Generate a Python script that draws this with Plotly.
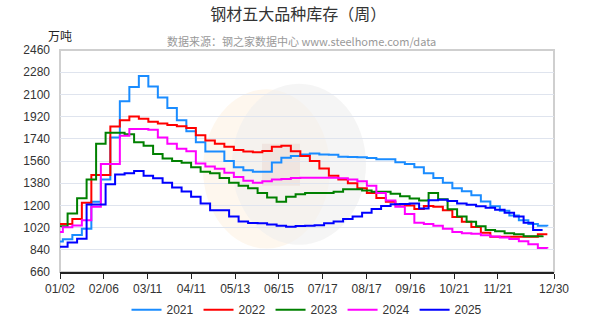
import plotly.graph_objects as go

# ---------------- data ----------------
years = ["2021", "2022", "2023", "2024", "2025"]
colors = ["#1a8cff", "#ff0000", "#008000", "#ff00ff", "#0000ff"]
# weekly report offset (in weeks) of each year's first reading relative to 01/02
week_offset = [-0.7, -0.7, -0.2, -0.7, -0.2]

y2021 = [908, 925, 960, 1010, 1230, 1409, 1750, 2045, 2160, 2250, 2165, 2075, 1990, 1890,
         1802, 1713, 1637, 1637, 1561, 1510, 1485, 1473, 1473, 1548, 1587, 1600, 1612, 1620,
         1612, 1610, 1595, 1592, 1590, 1585, 1574, 1574, 1549, 1535, 1510, 1460, 1422, 1384,
         1340, 1315, 1283, 1232, 1194, 1156, 1118, 1080, 1050, 1035, 1030]
y2022 = [1050, 1050, 1090, 1222, 1447, 1447, 1840, 1890, 1920, 1903, 1878, 1865, 1852, 1842,
         1827, 1769, 1726, 1700, 1675, 1650, 1637, 1630, 1642, 1675, 1683, 1640, 1600, 1560,
         1500, 1440, 1409, 1380, 1340, 1300, 1260, 1230, 1207, 1200, 1170, 1195, 1190, 1160,
         1105, 1067, 1025, 979, 945, 945, 945, 945, 945, 966, 966]
y2023 = [1030, 1135, 1257, 1409, 1700, 1789, 1789, 1776, 1713, 1683, 1617, 1581, 1561, 1545,
         1510, 1473, 1460, 1422, 1384, 1359, 1340, 1300, 1265, 1230, 1270, 1290, 1300, 1300,
         1300, 1310, 1330, 1330, 1320, 1310, 1310, 1295, 1275, 1255, 1240, 1300, 1250, 1169,
         1110, 1067, 1030, 1000, 990, 975, 966, 950, 950, 955]
y2024 = [985, 1022, 1037, 1080, 1190, 1536, 1536, 1764, 1820, 1820, 1814, 1750, 1700, 1660,
         1640, 1540, 1515, 1498, 1465, 1430, 1400, 1384, 1395, 1409, 1415, 1422, 1425, 1425,
         1425, 1425, 1420, 1410, 1395, 1360, 1300, 1240, 1190, 1130, 1060, 1050, 1035, 1010,
         985, 975, 970, 958, 948, 940, 928, 910, 885, 855, 850]
y2025 = [865, 900, 930, 1207, 1207, 1372, 1450, 1460, 1478, 1440, 1420, 1384, 1346, 1313,
         1270, 1215, 1160, 1160, 1110, 1070, 1058, 1055, 1045, 1035, 1027, 1032, 1035, 1040,
         1055, 1070, 1090, 1110, 1140, 1170, 1195, 1210, 1212, 1215, 1175, 1242, 1245, 1235,
         1215, 1205, 1194, 1180, 1165, 1140, 1110, 1060, 1000, 1000]
series = [y2021, y2022, y2023, y2024, y2025]

tick_labels = ["01/02", "02/06", "03/11", "04/11", "05/13", "06/15", "07/17",
               "08/17", "09/16", "10/21", "11/21", "12/30"]
n_weeks = 52
y_min, y_max, y_step = 660, 2460, 180

title_text = "钢材五大品种库存（周）"
source_text = "数据来源：钢之家数据中心 www.steelhome.com/data"
unit_text = "万吨"

# ---------------- figure ----------------
fig = go.Figure()
for name, col, off, vals in zip(years, colors, week_offset, series):
    xs = [i + off for i in range(len(vals))]
    fig.add_trace(go.Scatter(x=xs, y=vals, mode="lines", name=name,
                             line=dict(color=col, width=2, shape="hv")))

tick_spacing = 4.61
tickvals = [i * tick_spacing for i in range(len(tick_labels) - 1)] + [n_weeks]

font_fam = "Liberation Sans, Arial, Noto Sans CJK SC"

fig.update_layout(
    width=600, height=336,
    margin=dict(l=60, r=46, t=50, b=49),
    paper_bgcolor="white", plot_bgcolor="white",
    font=dict(family=font_fam, color="#333", size=12),
    title=dict(text=title_text, x=0.497, xref="container", xanchor="center",
               y=1 - 14 / 336, yref="container", yanchor="middle",
               font=dict(family="Noto Sans CJK SC", size=16, color="#333")),
    legend=dict(orientation="h", x=0.5, xanchor="center", y=-0.17, yanchor="middle",
                font=dict(size=12, color="#333"), itemwidth=30, tracegroupgap=0,
                bgcolor="rgba(0,0,0,0)"),
    xaxis=dict(range=[0, n_weeks], tickvals=tickvals, ticktext=tick_labels,
               ticks="outside", ticklen=5, tickcolor="#222", tickwidth=1,
               showline=True, linecolor="#222", linewidth=1.5, showgrid=False,
               zeroline=False, tickfont=dict(size=12, color="#333")),
    yaxis=dict(range=[y_min, y_max], tick0=y_min, dtick=y_step, showgrid=True,
               gridcolor="#dfe4ee", gridwidth=1, zeroline=False, showline=False,
               ticks="", tickfont=dict(size=12, color="#333"), ticklabelstandoff=9),
    shapes=[
        # watermark (faint logo)
        dict(type="circle", xref="paper", yref="paper",
             x0=(203 - 60) / 494, x1=(330 - 60) / 494,
             y0=(287 - 262) / 237, y1=(287 - 92) / 237,
             fillcolor="rgba(250,215,170,0.20)", line=dict(width=0), layer="between"),
        dict(type="circle", xref="paper", yref="paper",
             x0=(232 - 60) / 494, x1=(366 - 60) / 494,
             y0=(287 - 258) / 237, y1=(287 - 86) / 237,
             fillcolor="rgba(238,238,238,0.6)", line=dict(width=0), layer="between"),
        dict(type="rect", xref="paper", yref="paper",
             x0=(262 - 60) / 494, x1=(300 - 60) / 494,
             y0=(287 - 195) / 237, y1=(287 - 150) / 237,
             fillcolor="rgba(200,120,110,0.10)", line=dict(width=0), layer="between"),
        # plot frame
        dict(type="rect", xref="paper", yref="paper", x0=0, x1=1, y0=0, y1=1,
             line=dict(color="#cfcfcf", width=2), layer="below"),
    ],
    annotations=[
        dict(text=source_text, xref="paper", yref="paper",
             x=(301 - 60) / 494, y=1 + 10 / 237, xanchor="center", yanchor="middle",
             showarrow=False, font=dict(family="Noto Sans CJK SC", size=11, color="#999")),
        dict(text=unit_text, xref="paper", yref="paper",
             x=0, y=1 + 15 / 237, xanchor="center", yanchor="middle",
             showarrow=False, font=dict(family="Noto Sans CJK SC", size=12, color="#222")),
    ],
)

fig.write_html("out.html")
